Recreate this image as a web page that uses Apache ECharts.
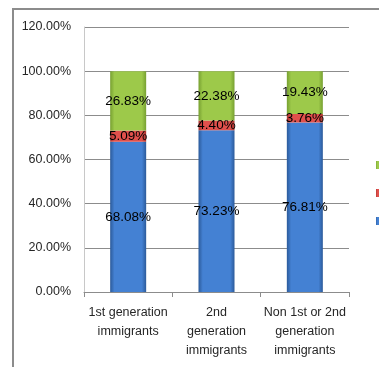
<!DOCTYPE html>
<html>
<head>
<meta charset="utf-8">
<script src="https://cdn.jsdelivr.net/npm/echarts@6/dist/echarts.min.js"></script>
<style>
  html, body { margin: 0; padding: 0; background: #fff; }
  #chart { width: 379px; height: 367px; }
</style>
</head>
<body>
<div id="chart"></div>
<script>
// Groups along the x axis
const categories = [
  '1st generation\nimmigrants',
  '2nd\ngeneration\nimmigrants',
  'Non 1st or 2nd\ngeneration\nimmigrants'
];

// Stacked shares, in percent
const series1Values = [68.08, 73.23, 76.81];
const series2Values = [5.09, 4.40, 3.76];
const series3Values = [26.83, 22.38, 19.43];

// Value axis ticks
const yTicks = [0, 20, 40, 60, 80, 100, 120];

function barGradient(edge, mid) {
  return new echarts.graphic.LinearGradient(0, 0, 1, 0, [
    { offset: 0, color: edge },
    { offset: 0.12, color: mid },
    { offset: 0.5, color: mid },
    { offset: 0.88, color: mid },
    { offset: 1, color: edge }
  ]);
}

const labelStyle = {
  show: true,
  position: 'inside',
  color: '#000',
  fontSize: 13.5,
  fontFamily: 'Liberation Sans, Arial, sans-serif',
  formatter: p => p.value.toFixed(2) + '%'
};

const chart = echarts.init(document.getElementById('chart'), null, { renderer: 'canvas' });

chart.setOption({
  animation: false,
  backgroundColor: '#fff',
  graphic: [{
    type: 'rect',
    shape: { x: 13, y: 9, width: 400, height: 400 },
    style: { fill: 'none', stroke: '#8c8c8c', lineWidth: 2 },
    silent: true
  }],
  grid: { left: 84, right: 30, top: 27, bottom: 75 },
  legend: {
    orient: 'vertical',
    left: 371,
    top: 154,
    itemWidth: 8,
    itemHeight: 8,
    itemGap: 16,
    icon: 'rect',
    textStyle: { fontSize: 12, color: '#404040' },
    data: ['Series3', 'Series2', 'Series1']
  },
  xAxis: {
    type: 'category',
    data: categories,
    axisLine: { lineStyle: { color: '#8c8c8c', width: 1 } },
    axisTick: { show: true, alignWithLabel: false, length: 5, lineStyle: { color: '#8c8c8c' } },
    axisLabel: {
      interval: 0,
      margin: 11,
      fontSize: 12.5,
      lineHeight: 19,
      color: '#262626',
      fontFamily: 'Liberation Sans, Arial, sans-serif'
    }
  },
  yAxis: {
    type: 'value',
    min: yTicks[0],
    max: yTicks[yTicks.length - 1],
    interval: 20,
    axisLine: { show: true, lineStyle: { color: '#c8c8c8' } },
    axisTick: { show: false },
    axisLabel: {
      margin: 13,
      fontSize: 12.5,
      color: '#262626',
      fontFamily: 'Liberation Sans, Arial, sans-serif',
      formatter: v => v.toFixed(2) + '%'
    },
    splitLine: {
      show: true,
      lineStyle: { color: '#8c8c8c', width: 1 },
      interval: (i, v) => v !== 0 && v !== 120
    }
  },
  series: [
    {
      name: 'Series1',
      type: 'bar',
      stack: 'share',
      barWidth: 36,
      data: series1Values,
      itemStyle: { color: barGradient('#2b5a9a', '#4481d3') },
      label: labelStyle
    },
    {
      name: 'Series2',
      type: 'bar',
      stack: 'share',
      barWidth: 36,
      data: series2Values,
      itemStyle: { color: barGradient('#a8302c', '#e0504c') },
      label: labelStyle
    },
    {
      name: 'Series3',
      type: 'bar',
      stack: 'share',
      barWidth: 36,
      data: series3Values,
      itemStyle: { color: barGradient('#77a031', '#9dc94a') },
      label: labelStyle
    }
  ]
});
</script>
</body>
</html>
